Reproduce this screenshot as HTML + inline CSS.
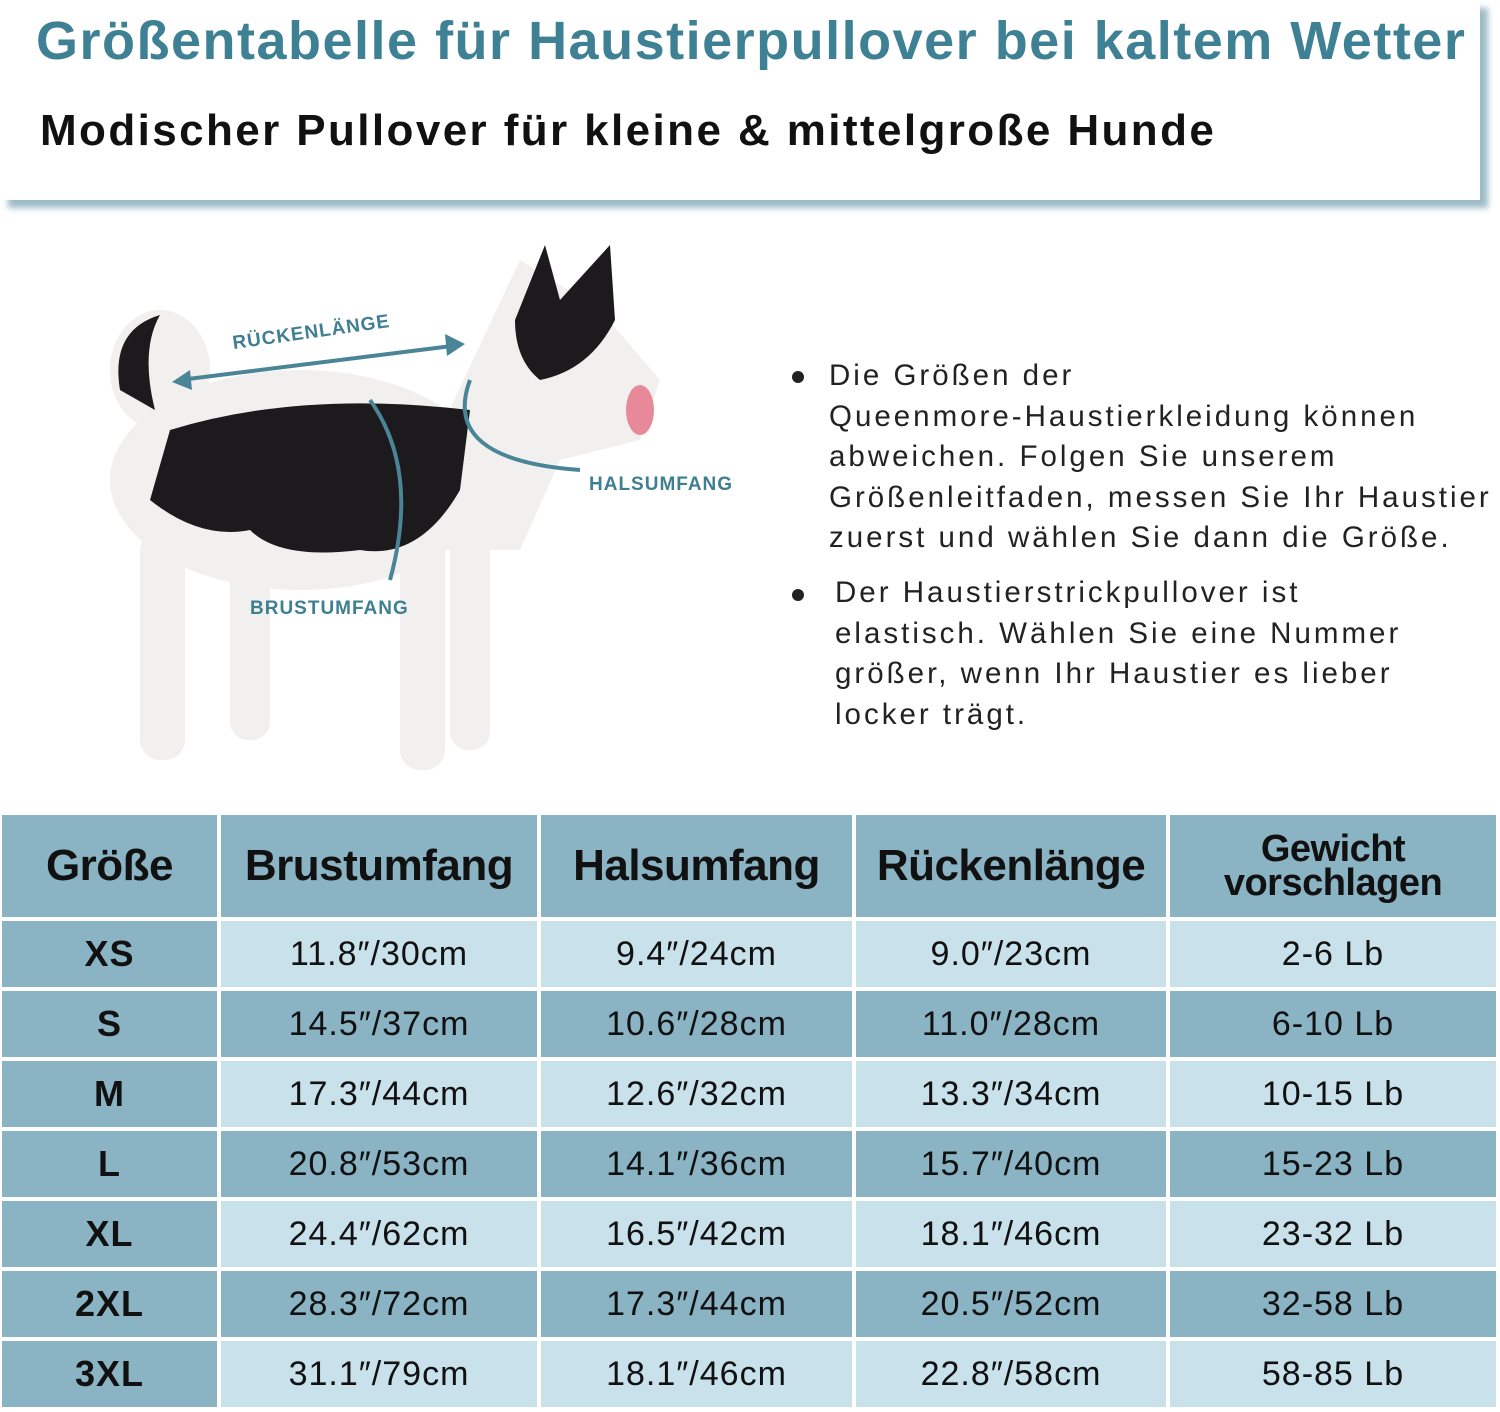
<!DOCTYPE html>
<html><head><meta charset="utf-8"><style>
body{margin:0;width:1500px;height:1412px;background:#fff;position:relative;overflow:hidden;font-family:"Liberation Sans","DejaVu Sans",sans-serif}
.hdr{position:absolute;left:0;top:0;width:1480px;height:200px;background:#fff;box-shadow:8px 8px 6px #9dbcc8}
h1{position:absolute;left:36px;top:10px;margin:0;font-size:54px;font-weight:bold;color:#3f8194;letter-spacing:1.5px;white-space:nowrap}
h2{position:absolute;left:40px;top:106px;margin:0;font-size:44px;font-weight:bold;color:#111;letter-spacing:2.4px;white-space:nowrap}
.txt{position:absolute;font-size:29.5px;color:#222;line-height:40.5px;letter-spacing:3px;white-space:nowrap}
.dot{position:absolute;width:12px;height:12px;border-radius:50%;background:#222}
.c{position:absolute;display:flex;align-items:center;justify-content:center;font-size:34px;color:#111;letter-spacing:1px}
.d{background:#8ab3c4}.l{background:#c9e1eb}
.h{font-weight:bold;font-size:44px;letter-spacing:-0.5px}
.s{font-weight:bold;font-size:36px}
.lab{position:absolute;font-size:19px;font-weight:bold;color:#3f7f92;letter-spacing:1px}
</style></head><body>
<div class="hdr"></div>
<h1>Größentabelle für Haustierpullover bei kaltem Wetter</h1>
<h2>Modischer Pullover für kleine &amp; mittelgroße Hunde</h2>

<svg style="position:absolute;left:0;top:230px" width="780" height="570">
<g fill="#f2f0ee">
<ellipse cx="300" cy="250" rx="190" ry="110"/>
<ellipse cx="160" cy="140" rx="50" ry="60"/>
<path d="M440 200 L520 30 L600 80 L660 150 L640 210 L560 230 L520 320 L440 320Z"/>
<rect x="140" y="300" width="45" height="230" rx="20"/>
<rect x="230" y="310" width="40" height="200" rx="18"/>
<rect x="400" y="300" width="45" height="240" rx="20"/>
<rect x="450" y="300" width="40" height="220" rx="18"/>
</g>
<g fill="#1c1a1c">
<path d="M170 200 Q300 160 470 180 L460 260 Q420 330 360 320 Q280 330 250 300 Q200 310 150 270Z"/>
<path d="M515 90 L545 15 L560 70 L610 15 L615 90 Q590 140 540 150 Q515 130 515 90Z"/>
<path d="M120 160 Q110 100 160 85 Q140 120 155 180Z"/>
</g>
<ellipse cx="640" cy="180" rx="14" ry="25" fill="#e8899a"/>
<path d="M180 150 L460 115" stroke="#4a8497" stroke-width="4" fill="none"/>
<path d="M172 152 l18 -12 l2 20z M465 114 l-20 -10 l2 22z" fill="#4a8497"/>
<path d="M370 170 Q420 240 390 350" stroke="#4a8497" stroke-width="4" fill="none"/>
<path d="M470 150 Q440 230 580 240" stroke="#4a8497" stroke-width="4" fill="none"/>
</svg>
<div class="lab" style="left:232px;top:322px;transform:rotate(-8deg)">RÜCKENLÄNGE</div>
<div class="lab" style="left:589px;top:474px">HALSUMFANG</div>
<div class="lab" style="left:250px;top:598px">BRUSTUMFANG</div>

<div class="dot" style="left:792px;top:371px"></div>
<div class="txt" style="left:829px;top:356px">Die Größen der<br>Queenmore-Haustierkleidung können<br>abweichen. Folgen Sie unserem<br>Größenleitfaden, messen Sie Ihr Haustier<br>zuerst und wählen Sie dann die Größe.</div>
<div class="dot" style="left:792px;top:589px"></div>
<div class="txt" style="left:835px;top:573px">Der Haustierstrickpullover ist<br>elastisch. Wählen Sie eine Nummer<br>größer, wenn Ihr Haustier es lieber<br>locker trägt.</div>

<div id="t"></div>
<script>
var xs=[[2,215],[221,316],[541,311],[856,310],[1170,326]];
var rows=[["XS","11.8″/30cm","9.4″/24cm","9.0″/23cm","2-6 Lb"],["S","14.5″/37cm","10.6″/28cm","11.0″/28cm","6-10 Lb"],["M","17.3″/44cm","12.6″/32cm","13.3″/34cm","10-15 Lb"],["L","20.8″/53cm","14.1″/36cm","15.7″/40cm","15-23 Lb"],["XL","24.4″/62cm","16.5″/42cm","18.1″/46cm","23-32 Lb"],["2XL","28.3″/72cm","17.3″/44cm","20.5″/52cm","32-58 Lb"],["3XL","31.1″/79cm","18.1″/46cm","22.8″/58cm","58-85 Lb"]];
var hd=["Größe","Brustumfang","Halsumfang","Rückenlänge","<span style='font-size:38px;line-height:34px;text-align:center'>Gewicht<br>vorschlagen</span>"];
var h="";
for(var j=0;j<5;j++)h+='<div class="c d h" style="left:'+xs[j][0]+'px;top:815px;width:'+xs[j][1]+'px;height:102px">'+hd[j]+'</div>';
for(var i=0;i<7;i++){var y=921+i*70;for(var j=0;j<5;j++){var cl=(j==0||i%2==1)?"d":"l";h+='<div class="c '+cl+(j==0?' s':'')+'" style="left:'+xs[j][0]+'px;top:'+y+'px;width:'+xs[j][1]+'px;height:66px">'+rows[i][j]+'</div>';}}
document.getElementById("t").innerHTML=h;
</script>
</body></html>
